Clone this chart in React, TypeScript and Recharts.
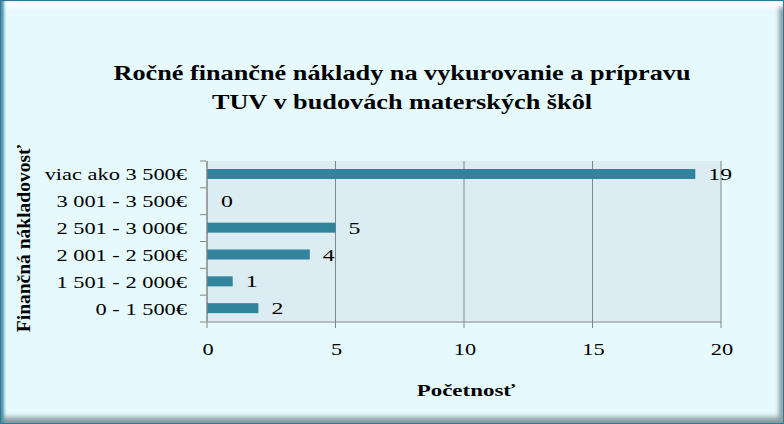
import { BarChart, Bar, XAxis, YAxis, CartesianGrid, LabelList } from "recharts";

// categories top to bottom, as in the picture
const categories = [
  "viac ako 3 500€",
  "3 001 - 3 500€",
  "2 501 - 3 000€",
  "2 001 - 2 500€",
  "1 501 - 2 000€",
  "0 - 1 500€",
];
const counts = [19, 0, 5, 4, 1, 2];
const xTicks = [0, 5, 10, 15, 20];

const data = categories.map((name, i) => ({ name, value: counts[i] }));

const W = 784;
const H = 424;
const serif = "'Liberation Serif', 'Times New Roman', serif";
const plotTop = 161;
const plotBottom = 322;
const band = (plotBottom - plotTop) / categories.length;
const SX = 1.4; // the reference text is stretched sideways

// y tick: label at the centre, tick mark at the band boundary (Excel style)
function CatTick(props: any) {
  const { x, y, payload, index } = props;
  return (
    <g>
      <line x1={x + 1} x2={x + 7} y1={y - band / 2} y2={y - band / 2} stroke="#868686" />
      {index === categories.length - 1 && (
        <line x1={x + 1} x2={x + 7} y1={y + band / 2} y2={y + band / 2} stroke="#868686" />
      )}
      <text
        transform={`translate(${x - 12},${y + 6}) scale(${SX},1)`}
        textAnchor="end"
        fontFamily={serif}
        fontSize={16}
        fill="#000"
      >
        {payload.value}
      </text>
    </g>
  );
}

function NumTick(props: any) {
  const { x, y, payload } = props;
  return (
    <text
      transform={`translate(${x + 1},${y + 25}) scale(${SX},1)`}
      textAnchor="middle"
      fontFamily={serif}
      fontSize={16}
      fill="#000"
    >
      {payload.value}
    </text>
  );
}

function ValueLabel(props: any) {
  const { x, y, width, height, value } = props;
  return (
    <text
      transform={`translate(${x + width + 13},${y + height / 2 + 6}) scale(${SX},1)`}
      textAnchor="start"
      fontFamily={serif}
      fontSize={17}
      fill="#000"
    >
      {value}
    </text>
  );
}

function BarShape(props: any) {
  if (!props.payload || props.payload.value <= 0) return <g />;
  return <rect x={props.x} y={props.y} width={props.width} height={props.height} fill={props.fill} />;
}

export default function App() {
  return (
    <div
      style={{
        position: "fixed",
        left: 0,
        top: 0,
        width: W,
        height: H,
        boxSizing: "border-box",
        border: "1px solid #2E7A93",
        background: "#E6FAFD",
        boxShadow:
          "inset 4px 0 3px -1px #4E94AB, inset 0 9px 5px -3px #ffffff, inset -6px 0 4px -2px #8C9CA2, inset 0 -8px 5px -2px #8C9CA2",
        overflow: "hidden",
      }}
    >
      <div
        style={{
          position: "absolute",
          left: 0,
          top: 58,
          width: 802,
          textAlign: "center",
          fontFamily: serif,
          fontWeight: "bold",
          fontSize: 21,
          lineHeight: "29px",
          color: "#000",
          transform: "scaleX(1.25)",
        }}
      >
        Ročné finančné náklady na vykurovanie a prípravu
        <br />
        TUV v budovách materských škôl
      </div>
      <div
        style={{
          position: "absolute",
          left: 365,
          top: 380,
          width: 200,
          textAlign: "center",
          fontFamily: serif,
          fontWeight: "bold",
          fontSize: 17,
          lineHeight: "20px",
          color: "#000",
          transform: "scaleX(1.35)",
        }}
      >
        Početnosť
      </div>
      <div style={{ position: "absolute", left: -1, top: -1 }}>
        <BarChart
          width={W}
          height={H}
          layout="vertical"
          data={data}
          margin={{ top: plotTop, right: 63, bottom: 42, left: 0 }}
          barCategoryGap={0}
        >
          <CartesianGrid horizontal={false} stroke="#868686" fill="#DBEDF3" fillOpacity={1} />
          <XAxis
            type="number"
            domain={[0, 20]}
            ticks={xTicks}
            interval={0}
            height={60}
            stroke="#868686"
            tickSize={6}
            tick={<NumTick />}
          />
          <YAxis
            type="category"
            dataKey="name"
            width={207}
            stroke="#868686"
            tickLine={false}
            tick={<CatTick />}
            interval={0}
            label={{
              value: "Finančná nákladovosť",
              angle: -90,
              position: "insideLeft",
              offset: 0,
              dx: 23,
              dy: -3,
              style: { textAnchor: "middle" },
              fill: "#000",
              fontFamily: serif,
              fontWeight: "bold",
              fontSize: 19.5,
            }}
          />
          <Bar
            dataKey="value"
            fill="#31849B"
            barSize={10}
            minPointSize={1}
            shape={<BarShape />}
            isAnimationActive={false}
          >
            <LabelList dataKey="value" content={<ValueLabel />} />
          </Bar>
        </BarChart>
      </div>
    </div>
  );
}
